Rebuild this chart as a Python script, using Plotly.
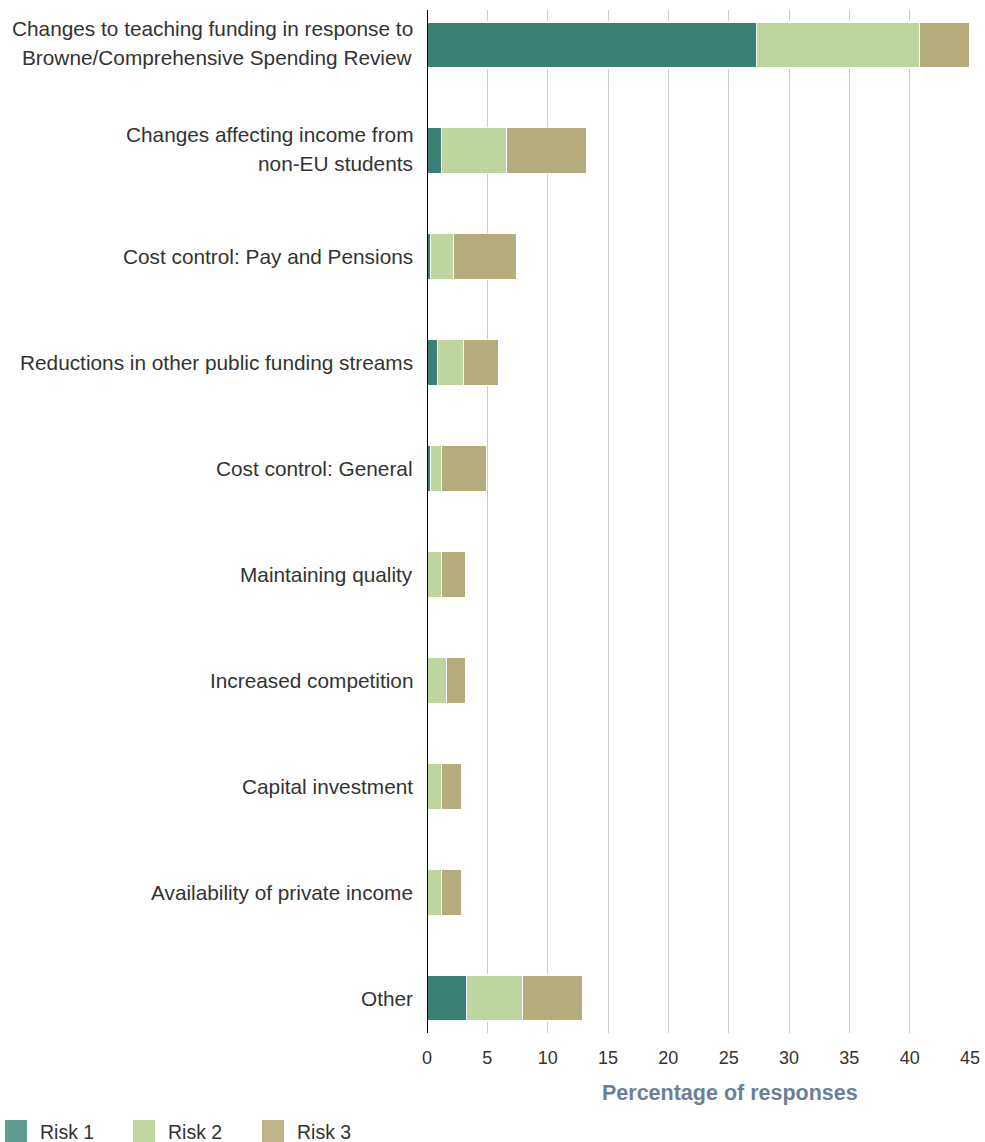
import plotly.graph_objects as go

categories = [
    "Changes to teaching funding in response to\nBrowne/Comprehensive Spending Review",
    "Changes affecting income from\nnon-EU students",
    "Cost control: Pay and Pensions",
    "Reductions in other public funding streams",
    "Cost control: General",
    "Maintaining quality",
    "Increased competition",
    "Capital investment",
    "Availability of private income",
    "Other",
]
risk1 = [27.3, 1.2, 0.3, 0.9, 0.3, 0.0, 0.0, 0.0, 0.0, 3.3]
risk2 = [13.5, 5.4, 1.9, 2.1, 0.9, 1.2, 1.6, 1.2, 1.2, 4.6]
risk3 = [4.2, 6.6, 5.2, 2.9, 3.7, 2.0, 1.6, 1.7, 1.7, 5.0]
series_names = ["Risk 1", "Risk 2", "Risk 3"]
bar_colors = ["#3a8073", "#bfd5a0", "#b5ac7b"]
legend_colors = ["#5f9a8f", "#bfd6a0", "#bdb48a"]
x_ticks = [0, 5, 10, 15, 20, 25, 30, 35, 40, 45]

# layout geometry (pixels)
W, H = 985, 1142
ML, MR, MT, MB = 427, 15, 10, 109
PW = W - ML - MR
PH = H - MT - MB


def px_to_paper_x(px):
    return (px - ML) / PW


def px_to_paper_y(py):
    return (H - MB - py) / PH


idx = list(range(len(categories)))
fig = go.Figure()
for name, vals, col in zip(series_names, [risk1, risk2, risk3], bar_colors):
    fig.add_trace(go.Bar(
        y=idx, x=vals, name=name, orientation="h",
        marker=dict(color=col, line=dict(color="white", width=1.2)),
        width=0.435, showlegend=False,
    ))

FONT = "Liberation Sans, Arial, sans-serif"
annotations = []
for i, lab in enumerate(categories):
    lines = lab.split("\n")
    n = len(lines)
    for k, ln in enumerate(lines):
        shift = ((n - 1) / 2 - k) * 29 + (2 if n > 1 else 0)
        annotations.append(dict(
            x=0, y=i, xref="x", yref="y", text=ln, showarrow=False,
            xanchor="right", yanchor="middle", xshift=-12, yshift=shift,
            font=dict(family=FONT, size=20.8, color="#333333"),
        ))

annotations.append(dict(
    x=px_to_paper_x(730), y=px_to_paper_y(1093), xref="paper", yref="paper",
    text="<b>Percentage of responses</b>",
    showarrow=False, font=dict(family=FONT, size=21.5, color="#6b7f98"),
    xanchor="center", yanchor="middle",
))

# custom legend
shapes = []
leg_x = [5, 133, 262]
for name, col, lx in zip(series_names, legend_colors, leg_x):
    shapes.append(dict(type="rect", xref="paper", yref="paper",
                       x0=px_to_paper_x(lx), x1=px_to_paper_x(lx + 22),
                       y0=px_to_paper_y(1120), y1=px_to_paper_y(1142),
                       fillcolor=col, line=dict(width=0)))
    annotations.append(dict(
        x=px_to_paper_x(lx + 33), y=px_to_paper_y(1132), xref="paper", yref="paper",
        text=name, showarrow=False, xanchor="left", yanchor="middle",
        font=dict(family=FONT, size=19.5, color="#333333"),
    ))

fig.update_layout(
    barmode="stack",
    width=W, height=H,
    margin=dict(l=ML, r=MR, t=MT, b=MB, autoexpand=False),
    plot_bgcolor="white", paper_bgcolor="white",
    annotations=annotations,
    shapes=shapes,
    xaxis=dict(
        range=[0, 45], tickvals=x_ticks, showgrid=True, gridcolor="#cccccc", gridwidth=1.2,
        zeroline=False, showline=False, ticks="",
        tickfont=dict(family=FONT, size=18, color="#333333"),
        ticklabelstandoff=12,
    ),
    yaxis=dict(
        range=[9.33, -0.33], showticklabels=False, showgrid=False, zeroline=False,
        showline=False, ticks="",
    ),
    font=dict(family=FONT),
)
fig.add_shape(type="line", xref="x", yref="paper", x0=0, x1=0, y0=0, y1=1,
              line=dict(color="black", width=2), layer="above")
fig.write_html("out.html")
